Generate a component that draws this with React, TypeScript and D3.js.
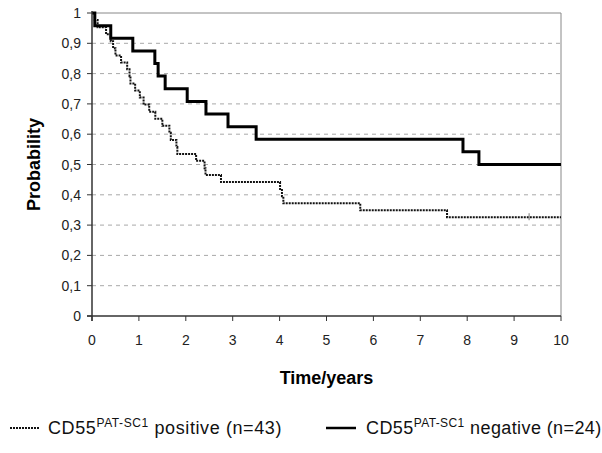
import React from 'react';
import * as d3 from 'd3';

// step points: [time in years, survival after the drop]
const positiveSteps: [number, number][] = [
  [0, 1],
  [0.06, 0.977],
  [0.12, 0.953],
  [0.3, 0.93],
  [0.4, 0.907],
  [0.45, 0.884],
  [0.5, 0.86],
  [0.62, 0.837],
  [0.75, 0.814],
  [0.8, 0.791],
  [0.82, 0.767],
  [0.92, 0.744],
  [1.02, 0.721],
  [1.1, 0.698],
  [1.22, 0.674],
  [1.35, 0.651],
  [1.5, 0.628],
  [1.65, 0.605],
  [1.68, 0.581],
  [1.8, 0.558],
  [1.82, 0.535],
  [2.22, 0.512],
  [2.4, 0.488],
  [2.42, 0.465],
  [2.75, 0.442],
  [4.01, 0.419],
  [4.05, 0.395],
  [4.08, 0.372],
  [5.72, 0.349],
  [7.57, 0.326],
  [10, 0.326],
];

const negativeSteps: [number, number][] = [
  [0, 1],
  [0.06, 0.958],
  [0.4, 0.917],
  [0.87, 0.875],
  [1.34, 0.833],
  [1.41, 0.792],
  [1.56, 0.75],
  [2.03, 0.708],
  [2.43, 0.667],
  [2.9, 0.625],
  [3.5, 0.583],
  [7.91, 0.542],
  [8.25, 0.5],
  [10, 0.5],
];

const positiveCensored: [number, number][] = [[9.32, 0.326]];

const xTicks = [0, 1, 2, 3, 4, 5, 6, 7, 8, 9, 10];
const yTicks = [0, 0.1, 0.2, 0.3, 0.4, 0.5, 0.6, 0.7, 0.8, 0.9, 1];

const W = 602;
const H = 453;
const left = 92;
const right = 561;
const top = 13;
const bottom = 316;

const font = 'Arial, "Liberation Sans", sans-serif';

const App = () => {
  const x = d3.scaleLinear().domain([0, 10]).range([left, right]);
  const y = d3.scaleLinear().domain([0, 1]).range([bottom, top]);

  const line = d3
    .line<[number, number]>()
    .x((d) => x(d[0]))
    .y((d) => y(d[1]))
    .curve(d3.curveStepAfter);

  const fmt = (v: number) => (v === 0 || v === 1 ? String(v) : d3.format('.1f')(v).replace('.', ','));

  return (
    <svg width={W} height={H} style={{ position: 'absolute', left: 0, top: 0, background: '#fff' }}>
      {/* grid */}
      {yTicks
        .filter((t) => t > 0 && t < 1)
        .map((t) => (
          <line key={'g' + t} x1={left} x2={right} y1={y(t)} y2={y(t)} stroke="#a8a8a8" strokeWidth={1} strokeDasharray="4,4" />
        ))}
      {/* frame */}
      <line x1={left} x2={right} y1={y(1)} y2={y(1)} stroke="#888" strokeWidth={1} />
      <line x1={right} x2={right} y1={y(1)} y2={bottom} stroke="#888" strokeWidth={1} />

      {/* curves */}
      <path d={line(positiveSteps) || ''} fill="none" stroke="#111" strokeWidth={2} strokeDasharray="2,1" />
      {positiveCensored.map((d, i) => (
        <line key={'c' + i} x1={x(d[0])} x2={x(d[0])} y1={y(d[1]) - 4} y2={y(d[1]) + 3} stroke="#777" strokeWidth={1} />
      ))}
      <path d={line(negativeSteps) || ''} fill="none" stroke="#000" strokeWidth={3} />

      {/* axes */}
      <line x1={left} x2={left} y1={top - 2} y2={bottom + 5} stroke="#333" strokeWidth={1.5} />
      <line x1={left - 5} x2={right} y1={bottom} y2={bottom} stroke="#333" strokeWidth={1.5} />
      {yTicks.map((t) => (
        <g key={'y' + t}>
          <line x1={left - 5} x2={left} y1={y(t)} y2={y(t)} stroke="#333" strokeWidth={1} />
          <text x={left - 11} y={y(t)} dy="0.36em" textAnchor="end" fontFamily={font} fontSize={14} fill="#222">
            {fmt(t)}
          </text>
        </g>
      ))}
      {xTicks.map((t) => (
        <g key={'x' + t}>
          <line x1={x(t)} x2={x(t)} y1={bottom} y2={bottom + 5} stroke="#333" strokeWidth={1} />
          <text x={x(t)} y={bottom + 29} textAnchor="middle" fontFamily={font} fontSize={14} fill="#222">
            {t}
          </text>
        </g>
      ))}

      {/* axis titles */}
      <text
        transform={`translate(40,${(top + bottom) / 2}) rotate(-90)`}
        textAnchor="middle"
        fontFamily={font}
        fontSize={18}
        fontWeight="bold"
        fill="#000"
      >
        Probability
      </text>
      <text x={(left + right) / 2} y={384} textAnchor="middle" fontFamily={font} fontSize={18} fontWeight="bold" fill="#000">
        Time/years
      </text>

      {/* legend */}
      <line x1={10} x2={40} y1={428} y2={428} stroke="#111" strokeWidth={2} strokeDasharray="2,1" />
      <text x={48} y={434} fontFamily={font} fontSize={18} fill="#111" letterSpacing={0.6}>
        CD55
        <tspan fontSize={12} dy={-7}>PAT-SC1</tspan>
        <tspan dy={7}> positive (n=43)</tspan>
      </text>
      <line x1={326} x2={356} y1={428} y2={428} stroke="#000" strokeWidth={2.5} />
      <text x={366} y={434} fontFamily={font} fontSize={18} fill="#111" letterSpacing={0.4}>
        CD55
        <tspan fontSize={12} dy={-7}>PAT-SC1</tspan>
        <tspan dy={7}> negative (n=24)</tspan>
      </text>
    </svg>
  );
};

export default App;
